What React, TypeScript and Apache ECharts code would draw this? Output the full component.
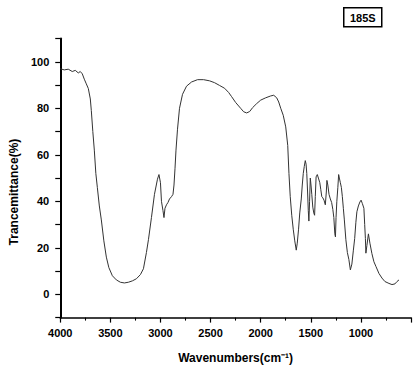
import React, { useEffect, useRef } from "react";
import * as echarts from "echarts";

const wavenumbers: number[] = [
  4000, 3960, 3920, 3880, 3850, 3820, 3800, 3780, 3760, 3740, 3720, 3700, 3690, 3675, 3660, 3645, 3630, 3610, 3590, 3565,
  3540, 3515, 3480, 3440, 3400, 3360, 3320, 3280, 3240, 3200, 3170, 3140, 3120, 3090, 3060, 3030, 3015, 3000, 2990, 2975,
  2965, 2955, 2940, 2925, 2910, 2890, 2875, 2865, 2855, 2845, 2830, 2810, 2780, 2740, 2690, 2630, 2570, 2510, 2460, 2410,
  2360, 2320, 2290, 2250, 2200, 2170, 2140, 2110, 2080, 2040, 2000, 1950, 1900, 1870, 1840, 1820, 1800, 1775, 1750, 1730,
  1718, 1705, 1690, 1675, 1660, 1645, 1635, 1622, 1610, 1595, 1585, 1575, 1565, 1555, 1547, 1540, 1532, 1525, 1519, 1512,
  1505, 1498, 1490, 1480, 1470, 1462, 1455, 1447, 1435, 1424, 1410, 1400, 1390, 1380, 1368, 1355, 1345, 1339, 1330, 1318,
  1305, 1292, 1280, 1270, 1260, 1254, 1248, 1240, 1230, 1222, 1215, 1205, 1195, 1185, 1175, 1165, 1150, 1135, 1120, 1105,
  1090, 1075, 1062, 1050, 1040, 1025, 1010, 998, 985, 970, 962, 955, 950, 940, 925, 910, 890, 870, 850, 820,
  790, 760, 720, 690, 660, 640, 620,
];

const transmittance: number[] = [
  97, 96.5, 96.8, 95.8, 96.3, 95.2, 95.8, 94.8, 92.5, 90.5, 88.5, 84, 79, 70, 62, 52, 46, 38, 32, 23,
  16, 11.5, 8, 6.2, 5.2, 4.9, 5.2, 5.8, 6.7, 8.5, 11, 18, 23.5, 33, 43, 49.5, 51.5, 48, 40, 36,
  33, 37, 38.5, 39.5, 41, 42, 43, 47, 54, 62, 71, 80, 86, 89.5, 91.3, 92.3, 92.3, 91.8, 91, 89.8,
  88.6, 86.8, 85, 82.5, 80, 78.5, 78, 78.6, 80.3, 82, 83.5, 84.5, 85.3, 85.6, 84.5, 82.7, 80, 77, 72, 64,
  52, 42, 34, 28, 23, 19, 22, 28, 35, 41, 47, 52, 55, 57.5, 56, 52, 44, 36, 31.5, 40,
  50, 47, 43, 37.5, 35, 34, 42, 50.5, 51.5, 50, 48, 45, 42, 41.5, 40.5, 38.5, 44, 49, 47, 43,
  41, 39.5, 36.5, 33, 26, 24.7, 33, 40, 46, 51.5, 50, 48, 46, 42, 37, 32, 23.5, 18, 15, 10.5,
  13, 19, 24, 31, 35.5, 38, 39.7, 40.5, 39, 37, 30, 24, 17.7, 21, 26, 22, 17.5, 14, 12, 9,
  7, 5.5, 4.7, 4.2, 4.5, 5.5, 6.2,
];

const xTicks: number[] = [4000, 3500, 3000, 2500, 2000, 1500, 1000];
const yTicks: number[] = [0, 20, 40, 60, 80, 100];
const sampleLabel = "185S";

export default function App() {
  const ref = useRef<HTMLDivElement>(null);

  useEffect(() => {
    if (!ref.current) return;
    const chart = echarts.init(ref.current, null, { renderer: "svg" });
    const font = "'Liberation Sans', Arial, sans-serif";
    const data = wavenumbers.map((w, i) => [w, transmittance[i]]);
    chart.setOption({
      animation: false,
      backgroundColor: "#ffffff",
      grid: { left: 57.3, right: -12.8, top: 38.5, bottom: 54.4, containLabel: false },
      xAxis: {
        type: "value",
        inverse: true,
        min: 500,
        max: 4000,
        interval: 500,
        name: "Wavenumbers(cm\u207B\u00B9)",
        nameLocation: "middle",
        nameGap: 34,
        nameTextStyle: {
          fontFamily: font,
          fontSize: 12,
          fontWeight: "bold",
          color: "#000",
          padding: [0, 0, 0, 0],
        },
        axisLine: { show: true, onZero: false, lineStyle: { color: "#000", width: 1.6 } },
        axisTick: { show: true, inside: false, length: 5, lineStyle: { color: "#000", width: 1.2 } },
        minorTick: { show: true, splitNumber: 2, length: 3, lineStyle: { color: "#000", width: 1.1 } },
        splitLine: { show: false },
        minorSplitLine: { show: false },
        axisLabel: {
          margin: 10,
          fontFamily: font,
          fontSize: 11,
          fontWeight: "bold",
          color: "#000",
          formatter: (v: number) => (xTicks.indexOf(v) >= 0 ? String(v) : ""),
        },
      },
      yAxis: {
        type: "value",
        min: -10,
        max: 110,
        interval: 10,
        name: "Trancemittance(%)",
        nameLocation: "middle",
        nameGap: 32,
        nameTextStyle: {
          fontFamily: font,
          fontSize: 12,
          fontWeight: "bold",
          color: "#000",
          padding: [0, 28, 0, 0],
        },
        axisLine: { show: true, onZero: false, lineStyle: { color: "#000", width: 2 } },
        axisTick: { show: true, inside: false, length: 5, lineStyle: { color: "#000", width: 1.2 } },
        splitLine: { show: false },
        axisLabel: {
          margin: 11,
          fontFamily: font,
          fontSize: 11,
          fontWeight: "bold",
          color: "#000",
          formatter: (v: number) => (yTicks.indexOf(v) >= 0 ? String(v) : ""),
        },
      },
      graphic: [
        {
          type: "group",
          left: 343,
          top: 7,
          children: [
            {
              type: "rect",
              shape: { x: 0, y: 0, width: 38, height: 19 },
              style: { fill: "#fff", stroke: "#000", lineWidth: 1.5 },
            },
            {
              type: "text",
              x: 19,
              y: 10,
              style: {
                text: sampleLabel,
                fontFamily: font,
                fontSize: 11,
                fontWeight: "bold",
                fill: "#000",
                align: "center",
                verticalAlign: "middle",
              },
            },
          ],
        },
      ],
      series: [
        {
          type: "line",
          data,
          symbol: "none",
          smooth: false,
          lineStyle: { color: "#333333", width: 1 },
          clip: true,
        },
      ],
    });
    return () => chart.dispose();
  }, []);

  return (
    <div
      ref={ref}
      style={{ position: "fixed", left: 0, top: 0, width: 414, height: 372, background: "#fff" }}
    />
  );
}
